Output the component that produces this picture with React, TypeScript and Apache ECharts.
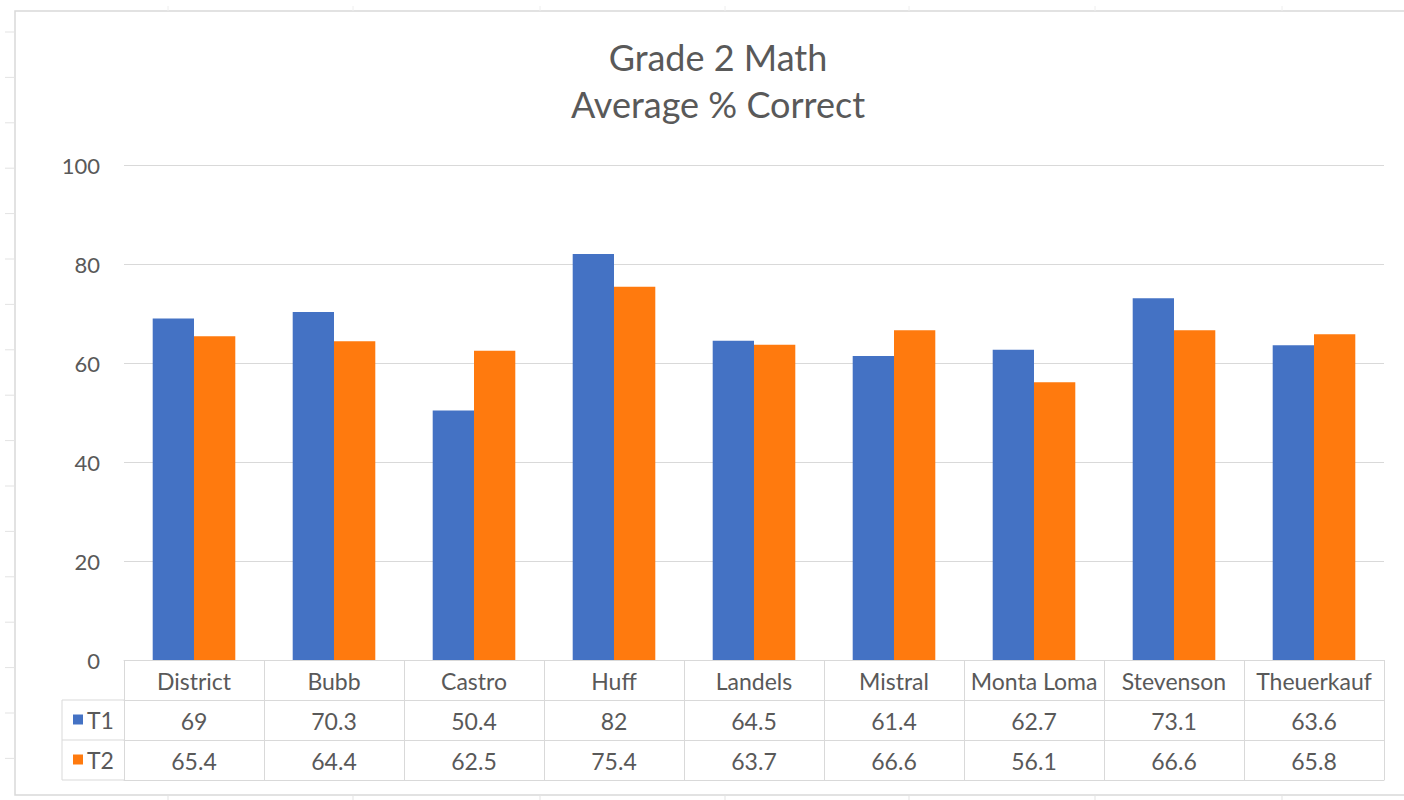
import React, { useEffect, useRef } from "react";
import * as echarts from "echarts";

const categories = ["District", "Bubb", "Castro", "Huff", "Landels", "Mistral", "Monta Loma", "Stevenson", "Theuerkauf"];
const t1Values = [69, 70.3, 50.4, 82, 64.5, 61.4, 62.7, 73.1, 63.6];
const t2Values = [65.4, 64.4, 62.5, 75.4, 63.7, 66.6, 56.1, 66.6, 65.8];
const seriesNames = ["T1", "T2"];
const titleLines = ["Grade 2 Math", "Average % Correct"];

const W = 1404;
const H = 800;
const GRID_LEFT = 124;
const GRID_RIGHT_X = 1384;
const GRID_TOP = 165;
const AXIS_Y = 660;
const ROW_H = 40;
const TABLE_LEFT = 62;
const LINE = "#d9d9d9";
const TEXT = "#595959";
const FONT = "Lato, 'Open Sans', sans-serif";

export default function App() {
  const ref = useRef<HTMLDivElement>(null);
  useEffect(() => {
    if (!ref.current) return;
    const chart = echarts.init(ref.current, null, { renderer: "svg" });

    const tableAxis = (offset: number, values: (number | null)[] | null, show: boolean) => ({
      type: "category",
      data: categories,
      gridIndex: 0,
      position: "bottom",
      offset,
      axisLine: { show: true, lineStyle: { color: LINE, width: 1 } },
      axisTick: { show, length: ROW_H, interval: 0, lineStyle: { color: LINE, width: 1 } },
      axisLabel: {
        show,
        interval: 0,
        margin: 9,
        color: TEXT,
        fontSize: 23,
        fontFamily: FONT,
        lineHeight: 23,
        formatter: (v: string, i: number) => (values ? String(values[i]) : v),
      },
      splitLine: { show: false },
    });

    const sheetTicks: any[] = [];
    for (let k = 0; k < 17; k++) {
      const y = 32 + k * 45.4;
      sheetTicks.push({ type: "line", shape: { x1: 5, y1: y, x2: 15, y2: y }, style: { stroke: "#e3e3e3", lineWidth: 1 }, silent: true });
    }
    [168, 353, 540, 725, 909, 1095, 1282].forEach((x) => {
      sheetTicks.push({ type: "line", shape: { x1: x, y1: 795, x2: x, y2: 800 }, style: { stroke: "#e3e3e3", lineWidth: 1 }, silent: true });
      sheetTicks.push({ type: "line", shape: { x1: x, y1: 6, x2: x, y2: 11 }, style: { stroke: "#eeeeee", lineWidth: 1 }, silent: true });
    });

    chart.setOption({
      animation: false,
      backgroundColor: "#ffffff",
      title: {
        text: titleLines.join("\n"),
        left: 713,
        top: 28,
        textAlign: "center",
        textStyle: { color: TEXT, fontSize: 36, fontWeight: "normal", fontFamily: FONT, lineHeight: 47 },
      },
      legend: {
        data: seriesNames,
        orient: "vertical",
        left: 73,
        top: AXIS_Y + ROW_H + 8,
        itemWidth: 10,
        itemHeight: 10,
        itemGap: 17,
        icon: "rect",
        padding: 0,
        textStyle: { color: TEXT, fontSize: 23, fontFamily: FONT, lineHeight: 23, padding: [0, 0, 0, -1] },
      },
      grid: { left: GRID_LEFT, right: W - GRID_RIGHT_X, top: GRID_TOP, bottom: H - AXIS_Y, containLabel: false },
      xAxis: [
        tableAxis(0, null, true),
        tableAxis(ROW_H, t1Values, true),
        tableAxis(ROW_H * 2, t2Values, true),
        tableAxis(ROW_H * 3, null, false),
      ],
      yAxis: {
        type: "value",
        min: 0,
        max: 100,
        interval: 20,
        axisLine: { show: false },
        axisTick: { show: false },
        axisLabel: { color: TEXT, fontSize: 22, fontFamily: FONT, margin: 24 },
        splitLine: { lineStyle: { color: LINE, width: 1 } },
      },
      series: [
        {
          name: seriesNames[0],
          type: "bar",
          data: t1Values,
          itemStyle: { color: "#4472C4" },
          barGap: "0%",
          barCategoryGap: "41%",
        },
        {
          name: seriesNames[1],
          type: "bar",
          data: t2Values,
          itemStyle: { color: "#FF7A0E" },
          barGap: "0%",
          barCategoryGap: "41%",
        },
      ],
      graphic: [
        { type: "rect", shape: { x: 15, y: 11, width: W + 10, height: 784 }, style: { fill: "none", stroke: LINE, lineWidth: 1.5 }, silent: true },
        { type: "line", shape: { x1: TABLE_LEFT, y1: AXIS_Y + ROW_H, x2: GRID_LEFT, y2: AXIS_Y + ROW_H }, style: { stroke: LINE, lineWidth: 1 }, silent: true },
        { type: "line", shape: { x1: TABLE_LEFT, y1: AXIS_Y + ROW_H * 2, x2: GRID_LEFT, y2: AXIS_Y + ROW_H * 2 }, style: { stroke: LINE, lineWidth: 1 }, silent: true },
        { type: "line", shape: { x1: TABLE_LEFT, y1: AXIS_Y + ROW_H * 3, x2: GRID_LEFT, y2: AXIS_Y + ROW_H * 3 }, style: { stroke: LINE, lineWidth: 1 }, silent: true },
        { type: "line", shape: { x1: TABLE_LEFT, y1: AXIS_Y + ROW_H, x2: TABLE_LEFT, y2: AXIS_Y + ROW_H * 3 }, style: { stroke: LINE, lineWidth: 1 }, silent: true },
        ...sheetTicks,
      ],
    });
    return () => chart.dispose();
  }, []);
  return <div ref={ref} style={{ position: "fixed", left: 0, top: 0, width: W, height: H }} />;
}
